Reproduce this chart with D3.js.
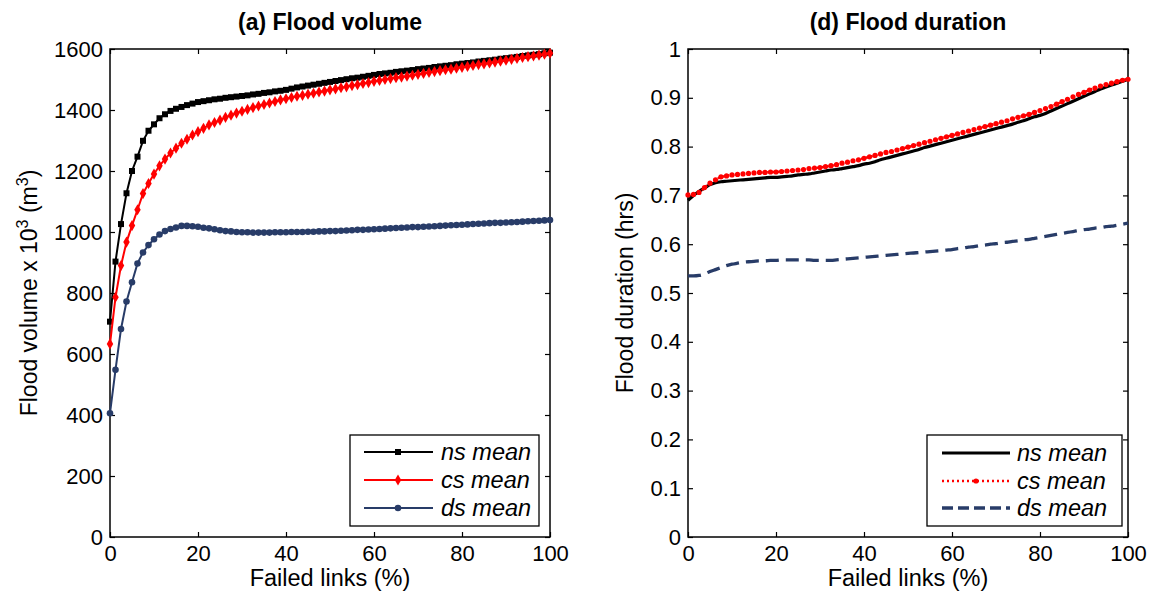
<!DOCTYPE html>
<html lang="en">
<head>
<meta charset="UTF-8"/>
<title>Flood volume and flood duration</title>
<script src="https://d3js.org/d3.v7.min.js"></script>
<style>
    body { margin: 0; background: #fff; }
    svg { font-family: "Liberation Sans", Arial, sans-serif; }
</style>
</head>
<body>
<script>

var w = 1155;
var h = 603;

// failed links (%) - one point every 1.25 %
var failedLinks = d3.range(81).map(function(i) { return i * 1.25; });

var volNs = [706, 903, 1026, 1127, 1200, 1247, 1299, 1332, 1353, 1373,
             1386, 1397, 1404, 1410, 1416, 1421, 1426, 1429, 1432, 1435,
             1437, 1440, 1442, 1444, 1446, 1448, 1451, 1453, 1456, 1458,
             1461, 1463, 1466, 1470, 1474, 1477, 1480, 1483, 1486, 1489,
             1492, 1495, 1498, 1501, 1504, 1506, 1509, 1512, 1515, 1518,
             1520, 1522, 1525, 1527, 1529, 1531, 1534, 1536, 1538, 1541,
             1543, 1545, 1547, 1550, 1552, 1554, 1556, 1559, 1561, 1563,
             1565, 1568, 1570, 1572, 1574, 1577, 1579, 1581, 1583, 1586,
             1588];
var volCs = [633, 786, 890, 967, 1021, 1073, 1126, 1159, 1190, 1217,
             1239, 1259, 1275, 1291, 1304, 1318, 1329, 1340, 1351, 1359,
             1367, 1376, 1383, 1390, 1396, 1402, 1408, 1413, 1418, 1423,
             1428, 1433, 1437, 1441, 1445, 1448, 1452, 1455, 1459, 1462,
             1466, 1469, 1473, 1476, 1480, 1483, 1487, 1490, 1494, 1497,
             1500, 1503, 1506, 1508, 1511, 1514, 1517, 1520, 1523, 1526,
             1529, 1532, 1534, 1537, 1540, 1543, 1546, 1549, 1551, 1554,
             1557, 1560, 1563, 1566, 1569, 1572, 1575, 1577, 1580, 1583,
             1586];
var volDs = [406, 548, 682, 772, 835, 897, 933, 957, 976, 992,
             1003, 1010, 1015, 1020, 1020, 1019, 1017, 1014, 1012, 1009,
             1006, 1003, 1002, 1000, 999, 999, 998, 998, 998, 998,
             999, 999, 999, 1000, 1000, 1000, 1001, 1001, 1002, 1002,
             1003, 1003, 1004, 1005, 1006, 1007, 1007, 1008, 1009, 1010,
             1011, 1012, 1013, 1014, 1015, 1016, 1016, 1017, 1018, 1019,
             1020, 1021, 1022, 1023, 1024, 1025, 1026, 1027, 1028, 1029,
             1030, 1030, 1031, 1032, 1033, 1034, 1035, 1036, 1037, 1038,
             1039];

var durNs = [0.690, 0.700, 0.708, 0.715, 0.722, 0.726, 0.728, 0.729, 0.730, 0.731,
             0.732, 0.733, 0.734, 0.735, 0.736, 0.737, 0.737, 0.738, 0.739, 0.740,
             0.742, 0.743, 0.744, 0.746, 0.748, 0.750, 0.752, 0.753, 0.755, 0.757,
             0.759, 0.761, 0.764, 0.766, 0.769, 0.773, 0.776, 0.779, 0.782, 0.785,
             0.788, 0.791, 0.794, 0.798, 0.801, 0.804, 0.807, 0.810, 0.813, 0.816,
             0.819, 0.822, 0.825, 0.828, 0.831, 0.834, 0.837, 0.840, 0.843, 0.846,
             0.850, 0.853, 0.857, 0.861, 0.864, 0.868, 0.873, 0.878, 0.883, 0.888,
             0.893, 0.898, 0.903, 0.908, 0.913, 0.918, 0.922, 0.926, 0.930, 0.934,
             0.938];
var durCs = [0.701, 0.702, 0.706, 0.716, 0.725, 0.732, 0.738, 0.740, 0.742, 0.743,
             0.744, 0.745, 0.746, 0.747, 0.747, 0.748, 0.748, 0.749, 0.750, 0.751,
             0.752, 0.753, 0.755, 0.756, 0.757, 0.759, 0.761, 0.763, 0.766, 0.768,
             0.771, 0.773, 0.776, 0.779, 0.782, 0.785, 0.788, 0.790, 0.793, 0.796,
             0.799, 0.802, 0.805, 0.808, 0.811, 0.814, 0.817, 0.820, 0.823, 0.826,
             0.829, 0.832, 0.835, 0.838, 0.841, 0.844, 0.847, 0.850, 0.853, 0.857,
             0.860, 0.863, 0.866, 0.870, 0.874, 0.878, 0.882, 0.887, 0.892, 0.897,
             0.902, 0.907, 0.911, 0.916, 0.920, 0.924, 0.927, 0.930, 0.933, 0.936,
             0.938];
var durDs = [0.535, 0.535, 0.536, 0.539, 0.544, 0.548, 0.552, 0.556, 0.559, 0.561,
             0.563, 0.564, 0.565, 0.566, 0.566, 0.567, 0.567, 0.568, 0.568, 0.568,
             0.568, 0.568, 0.568, 0.567, 0.567, 0.567, 0.567, 0.568, 0.569, 0.570,
             0.571, 0.572, 0.573, 0.574, 0.575, 0.576, 0.577, 0.578, 0.579, 0.580,
             0.581, 0.582, 0.583, 0.584, 0.585, 0.586, 0.587, 0.588, 0.589, 0.591,
             0.592, 0.594, 0.595, 0.597, 0.598, 0.600, 0.601, 0.603, 0.604, 0.606,
             0.607, 0.609, 0.610, 0.612, 0.614, 0.616, 0.618, 0.620, 0.622, 0.624,
             0.626, 0.628, 0.630, 0.631, 0.633, 0.634, 0.636, 0.637, 0.639, 0.641,
             0.643];

var seriesNames = ["ns mean", "cs mean", "ds mean"];
var xTicks = [0, 20, 40, 60, 80, 100];
var volTicks = [0, 200, 400, 600, 800, 1000, 1200, 1400, 1600];
var durTicks = [0, 0.1, 0.2, 0.3, 0.4, 0.5, 0.6, 0.7, 0.8, 0.9, 1];

var navy = "#283c68";

var svg = d3.select("body")
            .append("svg")
            .attr("width", w)
            .attr("height", h);

// draws the box, ticks, title and axis labels of one panel, returns the scales
function drawFrame(left, right, top, bottom, yDomain, yTicks, title, labelX) {
    var xScale = d3.scaleLinear().domain([0, 100]).range([left, right]);
    var yScale = d3.scaleLinear().domain(yDomain).range([bottom, top]);

    var g = svg.append("g");

    g.append("g")
        .attr("transform", "translate(0," + bottom + ")")
        .call(d3.axisBottom(xScale).tickValues(xTicks).tickSize(-5).tickPadding(8));
    g.append("g")
        .attr("transform", "translate(0," + top + ")")
        .call(d3.axisTop(xScale).tickValues(xTicks).tickSize(-5).tickFormat(""));
    g.append("g")
        .attr("transform", "translate(" + left + ",0)")
        .call(d3.axisLeft(yScale).tickValues(yTicks).tickSize(-5).tickPadding(7)
              .tickFormat(function(d) { return String(d); }));
    g.append("g")
        .attr("transform", "translate(" + right + ",0)")
        .call(d3.axisRight(yScale).tickValues(yTicks).tickSize(-5).tickFormat(""));

    g.selectAll(".domain").remove();
    g.selectAll(".tick line").attr("stroke", "#000").attr("stroke-width", 1.2);
    g.selectAll(".tick text")
        .attr("fill", "#000")
        .style("font-size", "22px")
        .style("font-family", "'Liberation Sans', Arial, sans-serif");

    g.append("rect")
        .attr("x", left)
        .attr("y", top)
        .attr("width", right - left)
        .attr("height", bottom - top)
        .attr("fill", "none")
        .attr("stroke", "#000")
        .attr("stroke-width", 1.5);

    g.append("text")
        .attr("x", (left + right) / 2)
        .attr("y", 30)
        .attr("text-anchor", "middle")
        .attr("font-weight", "bold")
        .attr("font-size", "23px")
        .text(title);

    g.append("text")
        .attr("x", (left + right) / 2)
        .attr("y", 586)
        .attr("text-anchor", "middle")
        .attr("font-size", "23.5px")
        .text("Failed links (%)");

    var yl = g.append("text")
        .attr("transform", "rotate(-90)")
        .attr("x", -(top + bottom) / 2)
        .attr("y", labelX)
        .attr("text-anchor", "middle")
        .attr("font-size", "23px");

    return { x: xScale, y: yScale, label: yl };
}

function legendBox(x, y, bw, bh) {
    svg.append("rect")
        .attr("x", x).attr("y", y)
        .attr("width", bw).attr("height", bh)
        .attr("fill", "#fff")
        .attr("stroke", "#000")
        .attr("stroke-width", 1.3);
}

function legendText(x, y, t) {
    svg.append("text")
        .attr("x", x)
        .attr("y", y)
        .attr("dy", "0.35em")
        .attr("font-size", "23.5px")
        .attr("font-style", "italic")
        .text(t);
}

/* ---------- (a) Flood volume ---------- */
var pa = drawFrame(110, 550, 49, 537, [0, 1600], volTicks, "(a) Flood volume", 37);
pa.label.append("tspan").text("Flood volume x 10");
pa.label.append("tspan").attr("dy", -9).attr("font-size", "16px").text("3");
pa.label.append("tspan").attr("dy", 9).text(" (m");
pa.label.append("tspan").attr("dy", -9).attr("font-size", "16px").text("3");
pa.label.append("tspan").attr("dy", 9).text(")");

var volSeries = [
    { values: volNs, color: "#000", marker: d3.symbolSquare, size: 36 },
    { values: volCs, color: "#ff0000", marker: d3.symbolDiamond, size: 36 },
    { values: volDs, color: navy, marker: d3.symbolCircle, size: 34 }
];

volSeries.forEach(function(s) {
    var pts = failedLinks.map(function(d, i) { return [d, s.values[i]]; });
    var line = d3.line()
        .x(function(d) { return pa.x(d[0]); })
        .y(function(d) { return pa.y(d[1]); });
    svg.append("path")
        .datum(pts)
        .attr("d", line)
        .attr("fill", "none")
        .attr("stroke", s.color)
        .attr("stroke-width", 2);
    svg.append("g").selectAll("path")
        .data(pts)
        .enter()
        .append("path")
        .attr("transform", function(d) {
            return "translate(" + pa.x(d[0]) + "," + pa.y(d[1]) + ")";
        })
        .attr("d", d3.symbol().type(s.marker).size(s.size))
        .attr("fill", s.color);
});

legendBox(350, 435, 189, 91);
volSeries.forEach(function(s, i) {
    var ly = 452 + i * 28;
    svg.append("line")
        .attr("x1", 364).attr("x2", 433)
        .attr("y1", ly).attr("y2", ly)
        .attr("stroke", s.color)
        .attr("stroke-width", 2);
    svg.append("path")
        .attr("transform", "translate(398," + ly + ")")
        .attr("d", d3.symbol().type(s.marker).size(s.size))
        .attr("fill", s.color);
    legendText(441, ly, seriesNames[i]);
});

/* ---------- (d) Flood duration ---------- */
var pd = drawFrame(688, 1128, 49, 537, [0, 1], durTicks, "(d) Flood duration", 633);
pd.label.text("Flood duration (hrs)");

var durLine = d3.line()
    .x(function(d) { return pd.x(d[0]); })
    .y(function(d) { return pd.y(d[1]); })
    .curve(d3.curveMonotoneX);

function durPoints(vals) {
    return failedLinks.map(function(d, i) { return [d, vals[i]]; });
}

svg.append("path")
    .datum(durPoints(durNs))
    .attr("d", durLine)
    .attr("fill", "none")
    .attr("stroke", "#000")
    .attr("stroke-width", 3.2);

svg.append("path")
    .datum(durPoints(durCs))
    .attr("d", durLine)
    .attr("fill", "none")
    .attr("stroke", "#ff0000")
    .attr("stroke-width", 2.5)
    .attr("stroke-dasharray", "2,3");

svg.append("g").selectAll("circle")
    .data(durPoints(durCs))
    .enter()
    .append("circle")
    .attr("cx", function(d) { return pd.x(d[0]); })
    .attr("cy", function(d) { return pd.y(d[1]); })
    .attr("r", 2.6)
    .attr("fill", "#ff0000");

svg.append("path")
    .datum(durPoints(durDs))
    .attr("d", durLine)
    .attr("fill", "none")
    .attr("stroke", navy)
    .attr("stroke-width", 3.3)
    .attr("stroke-dasharray", "13,7");

legendBox(927, 435, 195, 91);
svg.append("line")
    .attr("x1", 942).attr("x2", 1010).attr("y1", 453).attr("y2", 453)
    .attr("stroke", "#000").attr("stroke-width", 3.2);
svg.append("line")
    .attr("x1", 942).attr("x2", 1010).attr("y1", 481).attr("y2", 481)
    .attr("stroke", "#ff0000").attr("stroke-width", 2.5)
    .attr("stroke-dasharray", "2,3");
svg.append("circle")
    .attr("cx", 976).attr("cy", 481).attr("r", 2.6)
    .attr("fill", "#ff0000");
svg.append("line")
    .attr("x1", 942).attr("x2", 1010).attr("y1", 508).attr("y2", 508)
    .attr("stroke", navy).attr("stroke-width", 3.3)
    .attr("stroke-dasharray", "11,5");
seriesNames.forEach(function(n, i) {
    legendText(1017, 453 + i * 27.5, n);
});

</script>
</body>
</html>
